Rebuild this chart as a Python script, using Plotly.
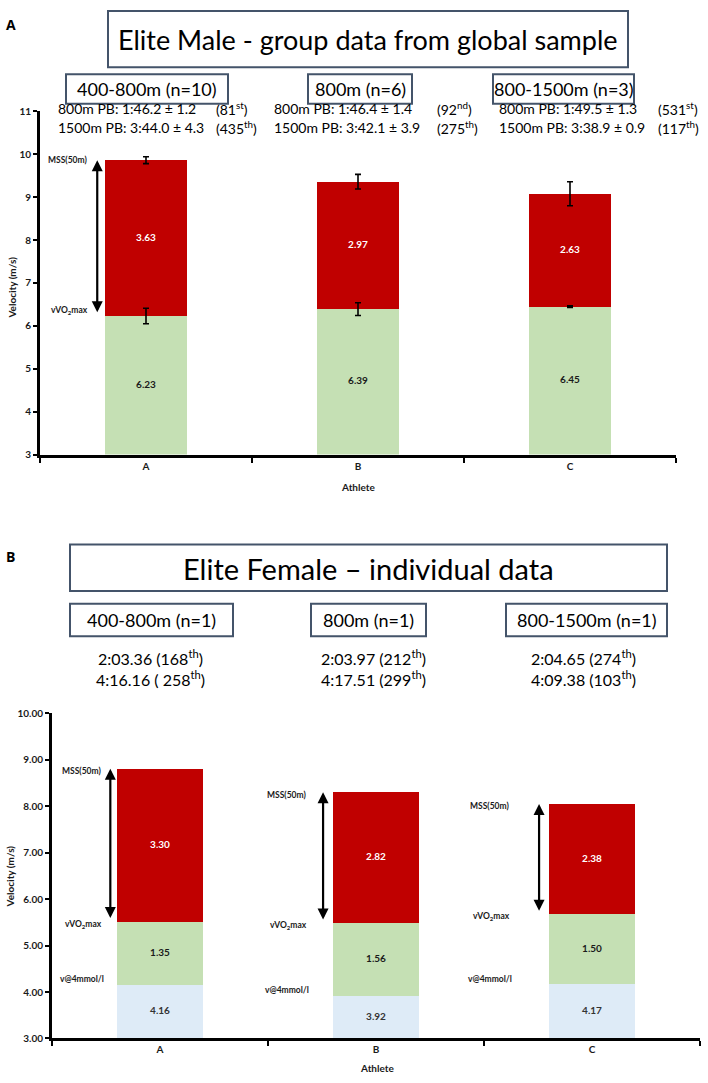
import plotly.graph_objects as go

W, H = 708, 1083

# ---------------- data ----------------
athletes = ["A", "B", "C"]

# Panel A: elite male group means
male_vvo2max = [6.23, 6.39, 6.45]
male_asr = [3.63, 2.97, 2.63]
male_vvo2max_sd = [0.18, 0.15, 0.02]
male_mss_sd = [0.08, 0.17, 0.28]
male_groups = ["400-800m (n=10)", "800m (n=6)", "800-1500m (n=3)"]
male_pb800 = ["800m PB: 1:46.2 ± 1.2", "800m PB: 1:46.4 ± 1.4", "800m PB: 1:49.5 ± 1.3"]
male_rank800 = ["(81<sup>st</sup>)", "(92<sup>nd</sup>)", "(531<sup>st</sup>)"]
male_pb1500 = ["1500m PB: 3:44.0 ± 4.3", "1500m PB: 3:42.1 ± 3.9", "1500m PB: 3:38.9 ± 0.9"]
male_rank1500 = ["(435<sup>th</sup>)", "(275<sup>th</sup>)", "(117<sup>th</sup>)"]

# Panel B: elite female individual data
female_v4mmol = [4.16, 3.92, 4.17]
female_vvo2_gap = [1.35, 1.56, 1.50]
female_asr = [3.30, 2.82, 2.38]
female_groups = ["400-800m (n=1)", "800m (n=1)", "800-1500m (n=1)"]
female_pb800 = ["2:03.36 (168<sup>th</sup>)", "2:03.97 (212<sup>th</sup>)", "2:04.65 (274<sup>th</sup>)"]
female_pb1500 = ["4:16.16 ( 258<sup>th</sup>)", "4:17.51 (299<sup>th</sup>)", "4:09.38 (103<sup>th</sup>)"]

male_yticks = [3, 4, 5, 6, 7, 8, 9, 10, 11]
female_yticks = [3, 4, 5, 6, 7, 8, 9, 10]

# ---------------- style ----------------
RED = "#C00000"
GREEN = "#C5E0B4"
BLUE = "#DEEBF7"
BOXC = "#44546A"
FONT = "Lato"
xs = list(range(len(athletes)))


def px(x):
    return x / W


def py(y):
    return 1 - y / H


fig = go.Figure()

# ---------- Panel A bars ----------
fig.add_trace(go.Bar(x=xs, y=male_vvo2max, marker=dict(color=GREEN, line=dict(width=0)),
                     width=0.39, xaxis="x", yaxis="y", hoverinfo="skip"))
fig.add_trace(go.Bar(x=xs, y=male_asr, marker=dict(color=RED, line=dict(width=0)),
                     width=0.39, xaxis="x", yaxis="y", hoverinfo="skip"))
male_top = [a + b for a, b in zip(male_vvo2max, male_asr)]
fig.add_trace(go.Scatter(x=xs + xs, y=male_vvo2max + male_top, mode="markers",
                         marker=dict(size=1, color="rgba(0,0,0,0)"),
                         error_y=dict(type="data", array=male_vvo2max_sd + male_mss_sd,
                                      color="black", thickness=1.6, width=3),
                         xaxis="x", yaxis="y", hoverinfo="skip"))
ymin_a = male_yticks[0]
lab_y = [(ymin_a + v) / 2 for v in male_vvo2max] + [(v + t) / 2 for v, t in zip(male_vvo2max, male_top)]
lab_t = [f"{v:.2f}" for v in male_vvo2max] + [f"{v:.2f}" for v in male_asr]
lab_c = ["#1a1a1a"] * 3 + ["white"] * 3
fig.add_trace(go.Scatter(x=xs + xs, y=lab_y, mode="text", text=lab_t,
                         textfont=dict(family=FONT, size=10, color=lab_c, weight="bold"),
                         xaxis="x", yaxis="y", hoverinfo="skip"))

# ---------- Panel B bars ----------
fig.add_trace(go.Bar(x=xs, y=female_v4mmol, marker=dict(color=BLUE, line=dict(width=0)),
                     width=0.40, xaxis="x2", yaxis="y2", hoverinfo="skip"))
fig.add_trace(go.Bar(x=xs, y=female_vvo2_gap, marker=dict(color=GREEN, line=dict(width=0)),
                     width=0.40, xaxis="x2", yaxis="y2", hoverinfo="skip"))
fig.add_trace(go.Bar(x=xs, y=female_asr, marker=dict(color=RED, line=dict(width=0)),
                     width=0.40, xaxis="x2", yaxis="y2", hoverinfo="skip"))
f_vvo2 = [a + b for a, b in zip(female_v4mmol, female_vvo2_gap)]
f_top = [a + b for a, b in zip(f_vvo2, female_asr)]
ymin_b = female_yticks[0]
lab_y2 = ([(ymin_b + v) / 2 for v in female_v4mmol]
          + [(a + b) / 2 for a, b in zip(female_v4mmol, f_vvo2)]
          + [(a + b) / 2 for a, b in zip(f_vvo2, f_top)])
lab_t2 = ([f"{v:.2f}" for v in female_v4mmol] + [f"{v:.2f}" for v in female_vvo2_gap]
          + [f"{v:.2f}" for v in female_asr])
lab_c2 = ["#333333"] * 3 + ["#1a1a1a"] * 3 + ["white"] * 3
fig.add_trace(go.Scatter(x=xs * 3, y=lab_y2, mode="text", text=lab_t2,
                         textfont=dict(family=FONT, size=10, color=lab_c2, weight="bold"),
                         xaxis="x2", yaxis="y2", hoverinfo="skip"))

annotations = []
shapes = []

# ---------- side labels & arrows ----------
small = dict(family=FONT, size=8.5, color="#1a1a1a", weight="bold")
# Panel A (athlete A only)
annotations.append(dict(x=-0.265, y=male_top[0], xref="x", yref="y", text="MSS(50m)",
                        showarrow=False, xanchor="right", yanchor="middle", font=small))
annotations.append(dict(x=-0.265, y=male_vvo2max[0] + 0.12, xref="x", yref="y",
                        text="vVO<sub>2</sub>max", showarrow=False, xanchor="right",
                        yanchor="middle", font=small))
annotations.append(dict(x=-0.23, y=male_top[0], ax=-0.23, ay=male_vvo2max[0] + 0.05,
                        xref="x", yref="y", axref="x", ayref="y", text="", showarrow=True,
                        arrowhead=2, arrowsize=1, arrowwidth=2.2, arrowside="end+start",
                        arrowcolor="black", standoff=0, startstandoff=0))

# Panel B (all athletes)
lab_off = [-0.26, -0.31, -0.37]
arr_off = [-0.23, -0.245, -0.245]
for i in xs:
    annotations.append(dict(x=i + lab_off[i], y=f_top[i] - 0.05, xref="x2", yref="y2",
                            text="MSS(50m)", showarrow=False, xanchor="right", yanchor="middle",
                            font=small))
    annotations.append(dict(x=i + lab_off[i], y=f_vvo2[i] - 0.05, xref="x2", yref="y2",
                            text="vVO<sub>2</sub>max", showarrow=False, xanchor="right",
                            yanchor="middle", font=small))
    annotations.append(dict(x=i + lab_off[i] + 0.01, y=female_v4mmol[i] + 0.12, xref="x2", yref="y2",
                            text="v@4mmol/l", showarrow=False, xanchor="right", yanchor="middle",
                            font=small))
    annotations.append(dict(x=i + arr_off[i], y=f_top[i], ax=i + arr_off[i], ay=f_vvo2[i] + 0.05,
                            xref="x2", yref="y2", axref="x2", ayref="y2", text="", showarrow=True,
                            arrowhead=2, arrowsize=1, arrowwidth=2.2, arrowside="end+start",
                            arrowcolor="black", standoff=0, startstandoff=0))


def ptext(x, y, text, font, xanchor="center", **kw):
    annotations.append(dict(x=px(x), y=py(y), xref="paper", yref="paper", text=text,
                            showarrow=False, xanchor=xanchor, yanchor="middle", font=font, **kw))


# ---------- axis titles ----------
axt = dict(family=FONT, size=10, color="#1a1a1a", weight="bold")
ptext(12, 284, "Velocity (m/s)", axt, textangle=-90)
ptext(358, 486, "Athlete", axt)
ptext(10, 880, "Velocity (m/s)", axt, textangle=-90)
ptext(377, 1074, "Athlete", axt)

# ---------- panel letters ----------
letter = dict(family="Open Sans", size=14, color="black", weight="bold")
ptext(4, 18, "A", letter, xanchor="left")
ptext(4, 556, "B", letter, xanchor="left")


def box(x0, y0, x1, y1):
    shapes.append(dict(type="rect", xref="paper", yref="paper", x0=px(x0), x1=px(x1),
                       y0=py(y1), y1=py(y0), line=dict(color=BOXC, width=2), fillcolor="white",
                       layer="below"))


# ---------- Panel A header ----------
box(108, 4, 628, 61)
ptext(368, 33, "Elite Male - group data from global sample", dict(family=FONT, size=27, color="black"))
subA = [(66, 228), (308, 412), (493, 634)]
for (x0, x1), g in zip(subA, male_groups):
    box(x0, 68, x1, 98)
    ptext((x0 + x1) / 2, 83, g, dict(family=FONT, size=18, color="black"))

pb_font = dict(family=FONT, size=14, color="black")
colA = [(56, 214), (272, 435), (497, 656)]
for (xl, xr), t1, r1, t2, r2 in zip(colA, male_pb800, male_rank800, male_pb1500, male_rank1500):
    ptext(xl, 103, t1, pb_font, xanchor="left")
    ptext(xl, 122, t2, pb_font, xanchor="left")
    ptext(xr, 103, r1, pb_font, xanchor="left")
    ptext(xr, 122, r2, pb_font, xanchor="left")

# ---------- Panel B header ----------
box(70, 544, 667, 591)
ptext(368, 568, "Elite Female – individual data", dict(family=FONT, size=29, color="black"))
subB = [(70, 233), (311, 426), (506, 667)]
for (x0, x1), g in zip(subB, female_groups):
    box(x0, 604, x1, 637)
    ptext((x0 + x1) / 2, 620, g, dict(family=FONT, size=18, color="black"))
centB = [150, 373, 583]
for c, t1, t2 in zip(centB, female_pb800, female_pb1500):
    ptext(c, 658, t1, dict(family=FONT, size=16, color="black"))
    ptext(c, 680, t2, dict(family=FONT, size=16, color="black"))

tickf = dict(family=FONT, size=10, color="#1a1a1a", weight="bold")
xcommon = dict(range=[-0.5, 2.5], tickvals=xs, ticktext=athletes, ticks="", showline=True,
               linecolor="black", linewidth=3, showgrid=False, zeroline=False, tickfont=tickf,
               minor=dict(tickvals=[-0.5, 0.5, 1.5, 2.5], ticks="outside", ticklen=5,
                          tickwidth=2, tickcolor="black", showgrid=False),
               fixedrange=True)
ycommon = dict(showline=True, linecolor="black", linewidth=3, showgrid=False, zeroline=False,
               ticks="outside", ticklen=4, tickwidth=2, tickcolor="black", tickfont=tickf,
               fixedrange=True)

fig.update_layout(
    width=W, height=H, margin=dict(l=0, r=0, t=0, b=0),
    paper_bgcolor="white", plot_bgcolor="white", showlegend=False, barmode="stack",
    xaxis=dict(domain=[px(40), px(676)], anchor="y", **xcommon),
    yaxis=dict(domain=[py(453), py(105.6)], anchor="x", range=[3, 11],
               tickvals=male_yticks, **ycommon),
    xaxis2=dict(domain=[px(52), px(700)], anchor="y2", **xcommon),
    yaxis2=dict(domain=[py(1044), py(715)], anchor="x2", range=[3, 10],
                tickvals=female_yticks, tickformat=".2f", **ycommon),
    annotations=annotations, shapes=shapes,
)

fig.write_html("out.html", config={"displayModeBar": False},
               post_script="document.body.style.margin='0px';")
